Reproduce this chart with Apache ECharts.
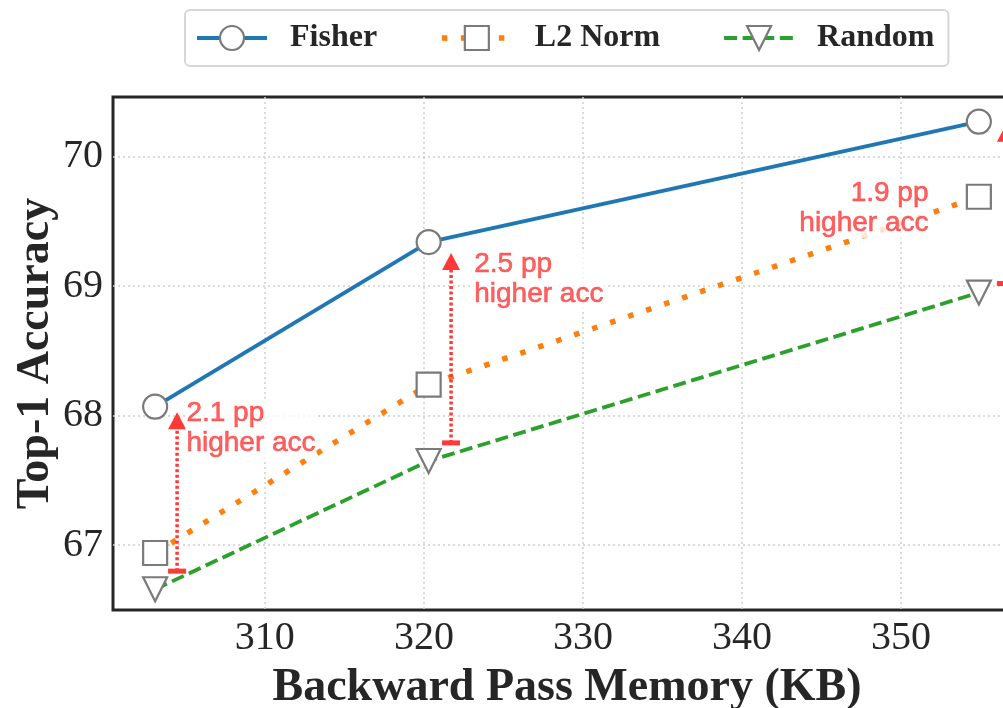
<!DOCTYPE html>
<html>
<head>
<meta charset="utf-8">
<script src="https://cdn.jsdelivr.net/npm/echarts@6/dist/echarts.min.js"></script>
<style>
  html, body { margin: 0; padding: 0; background: #fff; overflow: hidden; }
  #chart { width: 1040px; height: 708px; }
</style>
</head>
<body>
<div id="chart"></div>
<script>
// memory (KB) on x, top-1 accuracy on y
const memoryKB = [303.1, 320.3, 354.9];
const fisherAcc = [68.07, 69.34, 70.27];
const l2NormAcc = [66.94, 68.24, 69.69];
const randomAcc = [66.66, 67.65, 68.95];

// red "gap" arrows: x, bottom bar, arrow head
const arrowX = [304.48, 321.71, 356.6];
const arrowFrom = [66.8, 67.79, 69.02];
const arrowTo = [67.96, 69.19, 70.18];

// annotation text
const noteX = [305.0, 323.1, 351.8];
const noteY = [67.9, 69.055, 69.6];
const noteText = ["2.1 pp\nhigher acc", "2.5 pp\nhigher acc", "1.9 pp\nhigher acc"];
const noteRightAligned = [false, false, true];

const TEXT_COLOR = "#262626";
const RED = "#ff3838";
const MARKER_EDGE = "#7a7a7a";
const TRI_DOWN = "path://M0,0L2,0L1,2Z";

const BLUE = "#1f77b4";
const ORANGE = "#ff7f0e";
const GREEN = "#2ca02c";
const fisherLine = { color: BLUE, width: 4, type: "solid", cap: "butt" };
const l2Line = { color: ORANGE, width: 5.5, type: [5.5, 13.5], cap: "butt" };
const randomLine = { color: GREEN, width: 3.8, type: [13, 5.6], cap: "butt" };
const markerStyle = { color: "#fff", borderColor: MARKER_EDGE, borderWidth: 2.2 };

const chart = echarts.init(document.getElementById("chart"));

const pairs = (xs, ys) => xs.map((x, i) => [x, ys[i]]);

const lineSeries = (name, ys, lineStyle, symbol) => ({
  name: name,
  type: "line",
  data: pairs(memoryKB, ys),
  symbol: symbol,
  symbolSize: 24,
  color: lineStyle.color,
  lineStyle: lineStyle,
  itemStyle: markerStyle,
  z: 3,
});

const arrowSeries = arrowX.map((x, i) => ({
  type: "line",
  silent: true,
  z: 4,
  lineStyle: { color: RED, width: 3.5, type: [3, 2.5] },
  data: [
    { value: [x, arrowFrom[i]], symbol: "rect", symbolSize: [18, 5] },
    { value: [x, arrowTo[i]], symbol: "triangle", symbolSize: [18, 17] },
  ],
  itemStyle: { color: RED, borderWidth: 0 },
}));

const noteSeries = {
  type: "scatter",
  silent: true,
  z: 6,
  symbolSize: 0.1,
  itemStyle: { color: "#fff" },
  data: noteX.map((x, i) => ({
    value: [x, noteY[i]],
    label: noteRightAligned[i]
      ? { position: "left", align: "right" }
      : { position: "right", align: "left" },
  })),
  label: {
    show: true,
    distance: 0,
    formatter: (p) => noteText[p.dataIndex],
    color: RED,
    textBorderColor: RED,
    textBorderWidth: 0.6,
    fontFamily: "Liberation Sans",
    fontSize: 28,
    lineHeight: 30,
    backgroundColor: "#fff",
    padding: [0, 1],
  },
};

const serifBold = {
  fontFamily: "Liberation Serif",
  fontWeight: "bold",
  fontSize: 46,
  color: TEXT_COLOR,
};

const tickLabel = (margin) => ({
  showMinLabel: false,
  showMaxLabel: false,
  margin: margin,
  fontFamily: "Liberation Serif",
  fontSize: 40,
  color: TEXT_COLOR,
});

const gridLine = {
  show: true,
  showMinLine: false,
  showMaxLine: false,
  lineStyle: { color: "#cfcfcf", width: 1.5, type: [2, 3] },
};

const option = {
  animation: false,
  backgroundColor: "#fff",
  legend: {
    data: [
      { name: "Fisher", lineStyle: fisherLine, itemStyle: markerStyle },
      { name: "L2 Norm", lineStyle: l2Line, itemStyle: markerStyle },
      { name: "Random", lineStyle: randomLine, itemStyle: markerStyle },
    ],
    left: 185,
    top: 10,
    itemWidth: 70,
    itemHeight: 30,
    itemGap: 62,
    padding: [12, 14, 12, 10],
    borderColor: "#d6d6d6",
    borderWidth: 2,
    borderRadius: 5,
    textStyle: {
      fontFamily: "Liberation Serif",
      fontWeight: "bold",
      fontSize: 32,
      color: TEXT_COLOR,
      padding: [0, 0, 0, 18],
    },
  },
  grid: {
    left: 113,
    top: 97,
    width: 908,
    height: 513,
    outerBoundsMode: "none",
    show: true,
    borderColor: TEXT_COLOR,
    borderWidth: 3,
    backgroundColor: "#fff",
  },
  xAxis: {
    type: "value",
    min: 300.45,
    max: 357.55,
    name: "Backward Pass Memory (KB)",
    nameLocation: "middle",
    nameGap: 55,
    nameMoveOverlap: false,
    nameTextStyle: serifBold,
    axisLine: { show: false },
    axisTick: { show: false },
    axisLabel: tickLabel(8),
    splitLine: gridLine,
  },
  yAxis: {
    type: "value",
    min: 66.5,
    max: 70.46,
    name: "Top-1 Accuracy",
    nameLocation: "middle",
    nameGap: 54,
    nameMoveOverlap: false,
    nameTextStyle: serifBold,
    axisLine: { show: false },
    axisTick: { show: false },
    axisLabel: tickLabel(10),
    splitLine: gridLine,
  },
  series: [
    lineSeries("Fisher", fisherAcc, fisherLine, "circle"),
    lineSeries("L2 Norm", l2NormAcc, l2Line, "rect"),
    lineSeries("Random", randomAcc, randomLine, TRI_DOWN),
    ...arrowSeries,
    noteSeries,
  ],
};

chart.setOption(option);
</script>
</body>
</html>
